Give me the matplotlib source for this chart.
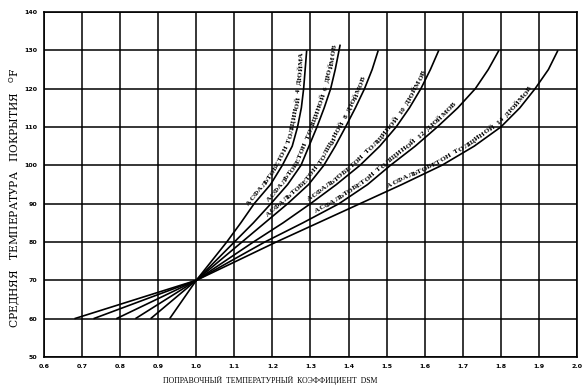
import numpy as np
import matplotlib.pyplot as plt
from matplotlib.font_manager import FontProperties
from matplotlib.transforms import IdentityTransform

# thickness of asphalt concrete, inches
thickness = [4, 6, 8, 10, 12, 14]

# upper branches (above 70 F), every 5 degrees
temp_up = [70, 75, 80, 85, 90, 95, 100, 105, 110, 115, 120, 125, 130]
dsm_up = {
    4:  [1.00, 1.040, 1.080, 1.117, 1.152, 1.195, 1.226, 1.252, 1.266, 1.276, 1.282, 1.286, 1.290],
    6:  [1.00, 1.050, 1.100, 1.150, 1.196, 1.240, 1.275, 1.296, 1.317, 1.336, 1.353, 1.365, 1.378],
    8:  [1.00, 1.060, 1.120, 1.180, 1.240, 1.295, 1.335, 1.365, 1.392, 1.418, 1.442, 1.462, 1.478],
    10: [1.00, 1.075, 1.150, 1.228, 1.300, 1.368, 1.430, 1.482, 1.525, 1.560, 1.590, 1.615, 1.637],
    12: [1.00, 1.090, 1.180, 1.280, 1.375, 1.450, 1.510, 1.575, 1.633, 1.687, 1.733, 1.767, 1.795],
    14: [1.00, 1.105, 1.210, 1.320, 1.430, 1.540, 1.645, 1.730, 1.800, 1.850, 1.890, 1.925, 1.950],
}
# the 6 inch curve runs slightly past 130
temp_top = {4: 130, 6: 131.5, 8: 130, 10: 130, 12: 130, 14: 130}

# lower branches (below 70 F)
temp_low = [70, 60]
dsm_low = {4: [1.0, 0.93], 6: [1.0, 0.88], 8: [1.0, 0.84],
           10: [1.0, 0.79], 12: [1.0, 0.73], 14: [1.0, 0.68]}

# temperature where each curve label begins
label_start = {4: 89.0, 6: 90.0, 8: 86.0, 10: 90.0, 12: 87.0, 14: 93.5}

xticks = np.round(np.arange(0.6, 2.01, 0.1), 1)
yticks = np.arange(50, 141, 10)

serif = 'Liberation Serif'
label_font = FontProperties(family=serif, weight='bold', size=5.4)

fig = plt.figure(figsize=(5.86, 3.87), dpi=100)
ax = fig.add_axes([0.0751, 0.0775, 0.9095, 0.8915])
ax.set_xlim(0.6, 2.0)
ax.set_ylim(50, 140)
renderer = fig.canvas.get_renderer()


def str_width(s):
    # advance width of s, measured between two guard letters
    full = renderer.get_text_width_height_descent('I' + s + 'I', label_font, ismath=False)[0]
    guard = renderer.get_text_width_height_descent('II', label_font, ismath=False)[0]
    return full - guard


def text_along(xs, ys, text, t_start, offset=4.3, spread=1.04):
    # write text letter by letter just above/left of a curve
    pts = ax.transData.transform(np.column_stack([xs, ys]))
    seg = np.hypot(np.diff(pts[:, 0]), np.diff(pts[:, 1]))
    cum = np.concatenate([[0], np.cumsum(seg)])
    s0 = np.interp(t_start, ys, cum)
    for i, ch in enumerate(text):
        if ch == ' ':
            continue
        sc = s0 + spread * 0.5 * (str_width(text[:i]) + str_width(text[:i + 1]))
        x0, y0 = np.interp(sc - 5, cum, pts[:, 0]), np.interp(sc - 5, cum, pts[:, 1])
        x1, y1 = np.interp(sc + 5, cum, pts[:, 0]), np.interp(sc + 5, cum, pts[:, 1])
        dx, dy = x1 - x0, y1 - y0
        n = np.hypot(dx, dy)
        px, py = np.interp(sc, cum, pts[:, 0]), np.interp(sc, cum, pts[:, 1])
        ax.text(px - dy / n * offset, py + dx / n * offset, ch, transform=IdentityTransform(),
                rotation=np.degrees(np.arctan2(dy, dx)), rotation_mode='anchor',
                ha='center', va='center', fontproperties=label_font)


for t in thickness:
    temps = temp_up[:-1] + [temp_top[t]]
    ax.plot(dsm_up[t], temps, color='black', lw=1.2, solid_capstyle='butt')
    ax.plot(dsm_low[t], temp_low, color='black', lw=1.2, solid_capstyle='butt')
    word = 'ДЮЙМА' if t == 4 else 'ДЮЙМОВ'
    text_along(dsm_up[t], temps, f'АСФАЛЬТОБЕТОН  ТОЛЩИНОЙ  {t}  {word}', label_start[t])

ax.set_xticks(xticks)
ax.set_xticklabels([f'{v:.1f}' for v in xticks], fontsize=4.5, fontweight='bold')
ax.set_yticks(yticks)
ax.set_yticklabels([str(v) for v in yticks], fontsize=4.5, fontweight='bold')
ax.tick_params(length=0, pad=5)
ax.grid(True, color='black', lw=1.1)
for s in ax.spines.values():
    s.set_linewidth(1.2)

ax.set_xlabel('ПОПРАВОЧНЫЙ  ТЕМПЕРАТУРНЫЙ  КОЭФФИЦИЕНТ  DSM', fontsize=5.6,
              family=serif)
ax.xaxis.set_label_coords(0.424, -0.055)

fig.text(15 / 586, 1 - 198 / 387, 'СРЕДНЯЯ   ТЕМПЕРАТУРА   ПОКРЫТИЯ   $^{\\rm O}$F',
         rotation=90, ha='center', va='center', fontsize=7.7, family='DejaVu Serif')

fig.savefig('out.png', dpi=100)
